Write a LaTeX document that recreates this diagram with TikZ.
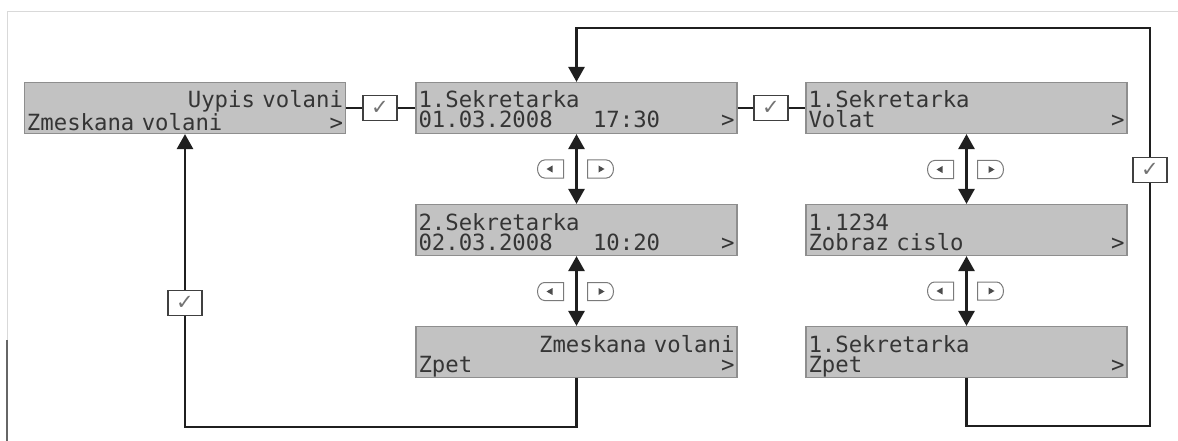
\documentclass[tikz,border=0pt]{standalone}
\usepackage{fontspec}
\newfontfamily\lcdfont{DejaVu Sans Mono}
\newfontfamily\symfont{DejaVu Sans}
\usetikzlibrary{arrows.meta, positioning}
\definecolor{lcdgray}{HTML}{C2C2C2}
\definecolor{lcdedge}{HTML}{8E8E8E}
\definecolor{lcdtext}{HTML}{353535}
\definecolor{keygray}{HTML}{7A7A7A}
\newcommand\lcdfill{\hskip 0pt plus 1filll\relax}

\begin{document}
\begin{tikzpicture}[x=1pt, y=-1pt,
  lcd/.style={rectangle, fill=lcdgray, draw=lcdedge, line width=1.2pt,
    minimum width=321pt, minimum height=51pt, inner xsep=2.5pt, inner ysep=0pt,
    text width=316pt, align=left, text=lcdtext,
    font=\lcdfont\fontsize{22.3}{20}\selectfont, text height=16pt, text depth=16pt},
  okbox/.style={rectangle, draw=black!75, fill=white, line width=1.2pt,
    minimum width=34pt, minimum height=25pt, inner sep=0pt, text=black!55,
    font=\symfont\fontsize{21}{21}\selectfont},
  link/.style={line width=2.8pt, draw=black!88},
  nav/.style={link, {Triangle[width=16pt,length=15pt]}-{Triangle[width=16pt,length=15pt]}},
  back/.style={link, -{Triangle[width=16pt,length=15pt]}},
  key/.style={draw=keygray, line width=1pt, fill=white}
]
\useasboundingbox (0,0) rectangle (1178,441);

% Scan frame
\draw[black!15, line width=1pt] (7,340) -- (7,12) -- (1178,12);
\draw[black!60, line width=1.2pt] (7,340) -- (7,441);

% Menu screens
\node[lcd] (vypis) at (185,108) {\lcdfill Uypis volani\\Zmeskana volani\lcdfill>};
\node[lcd] (sek1) at (576.5,108) {1.Sekretarka\\01.03.2008\phantom{000}17:30\lcdfill>};
\node[lcd] (sek2) at (576.5,230) {2.Sekretarka\\02.03.2008\phantom{000}10:20\lcdfill>};
\node[lcd] (zpetA) at (576.5,352) {\lcdfill Zmeskana volani\\Zpet\lcdfill>};
\node[lcd] (volat) at (966.5,108) {1.Sekretarka\\Volat\lcdfill>};
\node[lcd] (cislo) at (966.5,230) {1.1234\\Zobraz cislo\lcdfill>};
\node[lcd] (zpetB) at (966.5,352) {1.Sekretarka\\Zpet\lcdfill>};

% OK keys
\node[okbox] (okA) at (380,108) {✓};
\node[okbox] (okB) at (771,108) {✓};
\node[okbox] (okC) at (1150,170) {✓};
\node[okbox] (okD) at (185,303) {✓};

% Forward links
\draw[link] (vypis) -- (okA) -- (sek1);
\draw[link] (sek1) -- (okB) -- (volat);

% Scrolling
\draw[nav] (sek1) -- (sek2);
\draw[nav] (sek2) -- (zpetA);
\draw[nav] (volat) -- (cislo);
\draw[nav] (cislo) -- (zpetB);

% Back loops
\coordinate (rb) at (1150,426);
\coordinate (rt) at (1150,28);
\coordinate (lb) at (185,427);
\draw[link] (zpetB) |- (rb) -- (okC);
\draw[back] (okC) -- (rt) -| (sek1);
\draw[link] (zpetA) |- (lb) -- (okD);
\draw[back] (okD) -- (vypis);

% Arrow keys beside the scroll arrows
\foreach \cx/\cy in {576.5/169, 576.5/291.5, 966.5/169.5, 966.5/291} {
  \draw[key] (\cx-13,\cy-9) -- (\cx-32,\cy-9)
    arc[start angle=270, end angle=90, x radius=7, y radius=9] -- (\cx-13,\cy+9) -- cycle;
  \fill[black!70] (\cx-30,\cy) -- (\cx-24,\cy-3.5) -- (\cx-24,\cy+3.5) -- cycle;
  \draw[key] (\cx+11,\cy-9) -- (\cx+30,\cy-9)
    arc[start angle=270, end angle=450, x radius=7, y radius=9] -- (\cx+11,\cy+9) -- cycle;
  \fill[black!70] (\cx+28,\cy) -- (\cx+22,\cy-3.5) -- (\cx+22,\cy+3.5) -- cycle;
}
\end{tikzpicture}
\end{document}
